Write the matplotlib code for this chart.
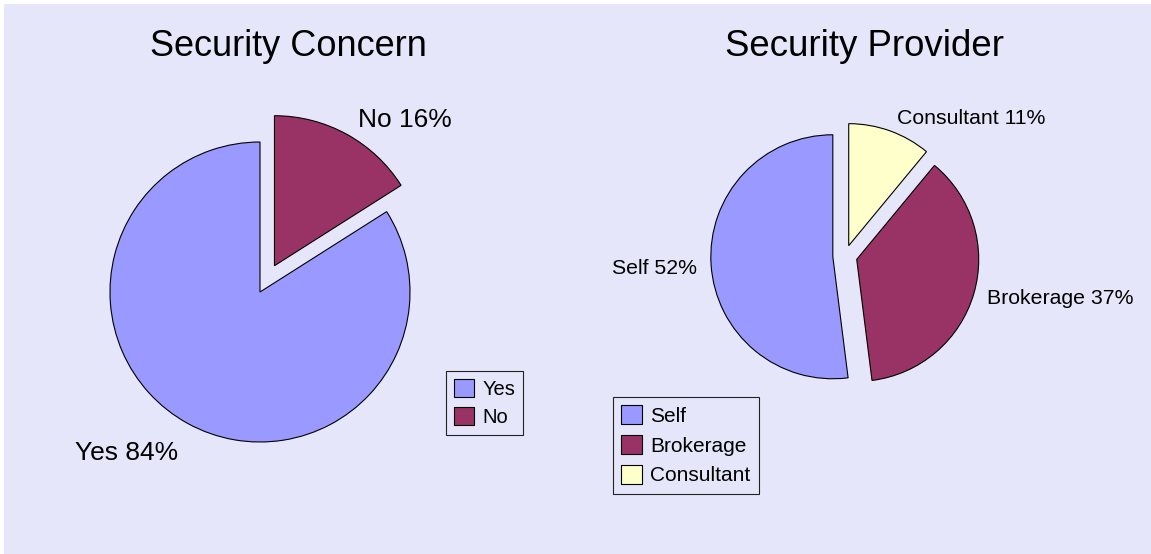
import matplotlib.pyplot as plt
from matplotlib.patches import Rectangle

W, H = 1151, 554
BG = "#E6E6FA"

concern_labels = ["Yes", "No"]
concern_pct = [84, 16]
concern_colors = ["#9999FF", "#993366"]

provider_labels = ["Self", "Brokerage", "Consultant"]
provider_pct = [52, 37, 11]
provider_colors = ["#9999FF", "#993366", "#FFFFCC"]

plt.rcParams['font.family'] = ['Liberation Sans', 'DejaVu Sans']

fig = plt.figure(figsize=(W / 100, H / 100), dpi=100, facecolor='white')
ax = fig.add_axes([0, 0, 1, 1])

# lavender panel, leaving a thin white strip on the top and left
ax.add_patch(Rectangle((4, 0), W - 4, H - 4, facecolor=BG, edgecolor='none', zorder=0))

wedge_style = dict(edgecolor='black', linewidth=0.8)

# left pie: security concern (explode is in data units, so scale by radius)
r1 = 150
w1, _ = ax.pie(concern_pct, colors=concern_colors, startangle=90,
               explode=[0, 0.2 * r1], center=(260, 262), radius=r1,
               wedgeprops=wedge_style)

# right pie: security provider
r2 = 122
w2, _ = ax.pie(provider_pct, colors=provider_colors, startangle=90,
               explode=[0.1 * r2, 0.1 * r2, 0.09 * r2], center=(845, 298), radius=r2,
               wedgeprops=wedge_style)

ax.set_xlim(0, W)
ax.set_ylim(0, H)
ax.set_aspect('equal')
ax.axis('off')

# titles
ax.text(288, H - 47, "Security Concern", ha='center', va='center', fontsize=26)
ax.text(865, H - 47, "Security Provider", ha='center', va='center', fontsize=26.4)

# slice labels
ax.text(358, H - 120, f"{concern_labels[1]} {concern_pct[1]}%", ha='left', va='center', fontsize=19)
ax.text(178, H - 453, f"{concern_labels[0]} {concern_pct[0]}%", ha='right', va='center', fontsize=19)

ax.text(697, H - 268, f"{provider_labels[0]} {provider_pct[0]}%", ha='right', va='center', fontsize=15.3)
ax.text(987, H - 299, f"{provider_labels[1]} {provider_pct[1]}%", ha='left', va='center', fontsize=15.3)
ax.text(897, H - 119, f"{provider_labels[2]} {provider_pct[2]}%", ha='left', va='center', fontsize=15.3)

legend_style = dict(loc='upper left', bbox_transform=ax.transData,
                    frameon=True, fancybox=False, edgecolor='#222222', facecolor=BG,
                    framealpha=1, handlelength=1.0, handleheight=1.0,
                    handletextpad=0.4, borderpad=0.4, borderaxespad=0)

leg1 = ax.legend(w1, concern_labels, bbox_to_anchor=(446, H - 371), fontsize=14.5,
                 labelspacing=0.4, **legend_style)
leg1.get_frame().set_linewidth(0.8)
ax.add_artist(leg1)

leg2 = ax.legend(w2, provider_labels, bbox_to_anchor=(613, H - 397), fontsize=15,
                 labelspacing=0.45, **legend_style)
leg2.get_frame().set_linewidth(0.8)

fig.savefig("out.png", dpi=100, facecolor='white')
